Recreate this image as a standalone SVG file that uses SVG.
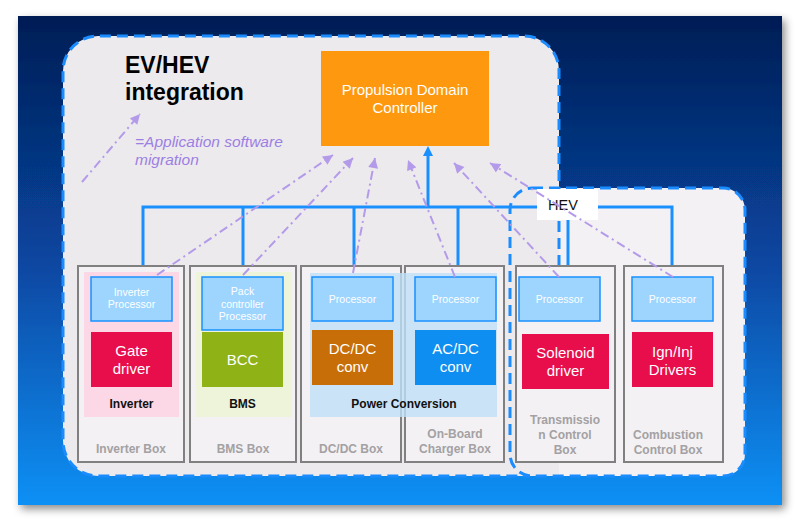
<svg xmlns="http://www.w3.org/2000/svg" width="800" height="522" viewBox="0 0 800 522">
<defs>
<linearGradient id="bg" x1="0" y1="0" x2="0" y2="1">
<stop offset="0" stop-color="#031d55"/>
<stop offset="0.5" stop-color="#0846a0"/>
<stop offset="1" stop-color="#0a90f5"/>
</linearGradient>
<filter id="sh" x="-5%" y="-5%" width="110%" height="110%">
<feDropShadow dx="3" dy="4" stdDeviation="4" flood-color="#000" flood-opacity="0.45"/>
</filter>
<marker id="pa" viewBox="0 0 10 10" refX="10" refY="5" markerWidth="11" markerHeight="10" markerUnits="userSpaceOnUse" orient="auto">
<path d="M0,0 L10,5 L0,10 z" fill="#b39be9"/>
</marker>
<style>
.dash{fill:none;stroke:#1a8cff;stroke-width:3;stroke-dasharray:11 6}
.bus{fill:none;stroke:#1a90ff;stroke-width:3}
.mig{fill:none;stroke:#b39be9;stroke-width:2;stroke-dasharray:9 4 2 4;marker-end:url(#pa)}
.box{fill:#f4f1f4;stroke:#808080;stroke-width:2}
.proc{fill:#9dd5ff;stroke:#1a90ff;stroke-width:1.5}
.pt{font-family:"Liberation Sans",Arial,sans-serif;font-size:10.5px;fill:#fff;text-anchor:middle}
.ft{font-family:"Liberation Sans",Arial,sans-serif;font-size:15px;fill:#fff;text-anchor:middle}
.bl{font-family:"Liberation Sans",Arial,sans-serif;font-size:12px;font-weight:bold;fill:#111;text-anchor:middle}
.gl{font-family:"Liberation Sans",Arial,sans-serif;font-size:12px;font-weight:bold;fill:#a3a1a3;text-anchor:middle}
</style>
</defs>
<rect width="800" height="522" fill="#fff"/>
<rect x="18" y="16" width="764" height="489" fill="url(#bg)" filter="url(#sh)"/>

<g id="regions">
<path d="M532,188 H723 A22,22 0 0 1 745,210 V454 A22,22 0 0 1 723,476 H532 A22,22 0 0 1 510,454 V210 A22,22 0 0 1 532,188 Z" fill="#f4f1f4"/>
<path d="M98,36 H524 A35,35 0 0 1 559,71 V476 H98 A35,35 0 0 1 63,441 V71 A35,35 0 0 1 98,36 Z" fill="#edeaee"/>
<path class="dash" d="M559,266 V71 A35,35 0 0 0 524,36 H98 A35,35 0 0 0 63,71 V441 A35,35 0 0 0 98,476 H530"/>
<path class="dash" d="M532,188 H723 A22,22 0 0 1 745,210 V454 A22,22 0 0 1 723,476 H532 A22,22 0 0 1 510,454 V210 A22,22 0 0 1 532,188 Z"/>
</g>

<g id="title">
<text x="125" y="73" font-family="Liberation Sans,Arial,sans-serif" font-size="23" font-weight="bold" fill="#000">EV/HEV</text>
<text x="125" y="100" font-family="Liberation Sans,Arial,sans-serif" font-size="23" font-weight="bold" fill="#000">integration</text>
</g>

<g id="legend">
<line class="mig" x1="82" y1="182" x2="140" y2="114"/>
<text x="135" y="147" font-family="Liberation Sans,Arial,sans-serif" font-size="15.5" font-style="italic" fill="#9c7fe2">=Application software</text>
<text x="135" y="165" font-family="Liberation Sans,Arial,sans-serif" font-size="15.5" font-style="italic" fill="#9c7fe2">migration</text>
</g>

<g id="pdc">
<rect x="321" y="51" width="168" height="95" fill="#fd980f"/>
<text x="405" y="95" class="ft" font-size="15.5">Propulsion Domain</text>
<text x="405" y="113" class="ft" font-size="15.5">Controller</text>
</g>

<g id="bus">
<path class="bus" d="M143,266 V207 H672 V266 M243,207 V266 M354,207 V266 M458,207 V266 M568,207 V266 M428,207 V155"/>
<polygon points="428,146 423,156 433,156" fill="#1a90ff"/>
</g>

<g id="hev-label">
<rect x="537" y="189" width="61" height="31" fill="#fff"/>
<text x="548" y="210" font-family="Liberation Sans,Arial,sans-serif" font-size="14.5" fill="#111">HEV</text>
</g>

<g id="inverter-box">
<rect class="box" x="78" y="266" width="106" height="196"/>
<rect x="84" y="272" width="95" height="145" fill="#fcd8e6"/>
<rect class="proc" x="91" y="277" width="81" height="44"/>
<text class="pt" x="131.5" y="296">Inverter</text>
<text class="pt" x="131.5" y="308">Processor</text>
<rect x="91" y="332" width="81" height="55" fill="#e80d4b"/>
<text class="ft" x="131.5" y="356">Gate</text>
<text class="ft" x="131.5" y="374">driver</text>
<text class="bl" x="131.5" y="408">Inverter</text>
<text class="gl" x="131" y="453">Inverter Box</text>
</g>

<g id="bms-box">
<rect class="box" x="190" y="266" width="106" height="196"/>
<rect x="196" y="272" width="96" height="145" fill="#eef4d9"/>
<rect class="proc" x="202" y="277" width="81" height="53"/>
<text class="pt" x="242.5" y="295">Pack</text>
<text class="pt" x="242.5" y="307.5">controller</text>
<text class="pt" x="242.5" y="320">Processor</text>
<rect x="202" y="332" width="81" height="55" fill="#8fb316"/>
<text class="ft" x="242.5" y="365">BCC</text>
<text class="bl" x="242.5" y="408">BMS</text>
<text class="gl" x="243" y="453">BMS Box</text>
</g>

<g id="dcdc-box">
<rect class="box" x="301" y="266" width="100" height="196"/>
<text class="gl" x="351" y="453">DC/DC Box</text>
</g>

<g id="obc-box">
<rect class="box" x="405" y="266" width="99" height="196"/>
<text class="gl" x="455" y="438">On-Board</text>
<text class="gl" x="455" y="453">Charger Box</text>
</g>

<g id="power-conversion">
<rect x="310" y="273" width="187" height="144" fill="#bfe0f7" fill-opacity="0.8"/>
<rect class="proc" x="312" y="277" width="81" height="44"/>
<text class="pt" x="352.5" y="303">Processor</text>
<rect x="312" y="330" width="81" height="55" fill="#c86e08"/>
<text class="ft" x="352.5" y="354">DC/DC</text>
<text class="ft" x="352.5" y="372">conv</text>
<rect class="proc" x="415" y="277" width="81" height="44"/>
<text class="pt" x="455.5" y="303">Processor</text>
<rect x="415" y="330" width="81" height="55" fill="#0d8ef0"/>
<text class="ft" x="455.5" y="354">AC/DC</text>
<text class="ft" x="455.5" y="372">conv</text>
<text class="bl" x="404" y="408">Power Conversion</text>
</g>

<g id="transmission-box">
<rect class="box" x="516" y="266" width="99" height="196"/>
<rect class="proc" x="519" y="277" width="81" height="44"/>
<text class="pt" x="559.5" y="303">Processor</text>
<rect x="522" y="334" width="87" height="55" fill="#e80d4b"/>
<text class="ft" x="565.5" y="358">Solenoid</text>
<text class="ft" x="565.5" y="376">driver</text>
<text class="gl" x="565" y="424">Transmissio</text>
<text class="gl" x="565" y="439">n Control</text>
<text class="gl" x="565" y="454">Box</text>
</g>

<g id="combustion-box">
<rect class="box" x="624" y="266" width="99" height="196"/>
<rect class="proc" x="632" y="277" width="81" height="44"/>
<text class="pt" x="672.5" y="303">Processor</text>
<rect x="632" y="332" width="81" height="55" fill="#e80d4b"/>
<text class="ft" x="672.5" y="357">Ign/Inj</text>
<text class="ft" x="672.5" y="375">Drivers</text>
<text class="gl" x="668" y="439">Combustion</text>
<text class="gl" x="668" y="454">Control Box</text>
</g>

<g id="migration-arrows">
<line class="mig" x1="157" y1="275" x2="333" y2="155"/>
<line class="mig" x1="243" y1="275" x2="353" y2="158"/>
<line class="mig" x1="353" y1="273" x2="375" y2="158"/>
<line class="mig" x1="455" y1="277" x2="408" y2="160"/>
<line class="mig" x1="559" y1="277" x2="454" y2="163"/>
<line class="mig" x1="673" y1="277" x2="490" y2="163"/>
</g>
</svg>
